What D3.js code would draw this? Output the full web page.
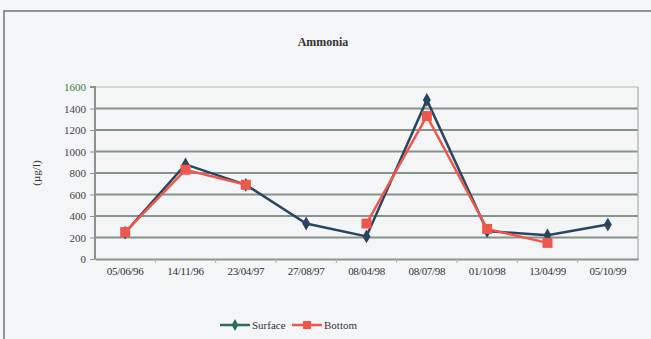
<!DOCTYPE html>
<html><head><meta charset="utf-8">
<script src="https://cdn.jsdelivr.net/npm/d3@7"></script>
<style>body{margin:0;background:#f4f5f7;}svg{display:block;}</style>
</head><body>
<svg id="c" width="651" height="339"></svg>
<script>
const categories = ["05/06/96","14/11/96","23/04/97","27/08/97","08/04/98","08/07/98","01/10/98","13/04/99","05/10/99"];
const surface = [245, 880, 690, 330, 210, 1480, 260, 220, 320];
const bottom  = [250, 830, 690, null, 330, 1330, 280, 150, null];
const yTicks = [0,200,400,600,800,1000,1200,1400,1600];

const svg = d3.select("#c");
const W = 651, H = 339;
const FF = "'Liberation Serif', 'Times New Roman', serif";
svg.append("rect").attr("width",W).attr("height",H).attr("fill","#f4f5f7");
// outer frame
svg.append("path").attr("d","M4,339 V11 H651").attr("fill","none").attr("stroke","#8e9692").attr("stroke-width",2);

const m = {l:95, r:638, t:87, b:259};
const x = d3.scaleBand().domain(categories).range([m.l, m.r]);
const y = d3.scaleLinear().domain([0,1600]).range([m.b, m.t]);

// gridlines
svg.append("g").selectAll("line").data(yTicks.filter(d=>d>0)).join("line")
  .attr("x1",m.l).attr("x2",m.r).attr("y1",d=>y(d)).attr("y2",d=>y(d))
  .attr("stroke",d=>d===1600?"#a9bea9":"#86938a").attr("stroke-width",d=>d===1600?1:2);
// right edge
svg.append("line").attr("x1",m.r).attr("x2",m.r).attr("y1",m.t).attr("y2",m.b).attr("stroke","#9aa69c").attr("stroke-width",1);

// y axis
const ya = svg.append("g").attr("transform",`translate(${m.l},0)`)
  .call(d3.axisLeft(y).tickValues(yTicks).tickFormat(d3.format("d")).tickSize(5).tickPadding(4));
ya.selectAll("text").style("font-family",FF).attr("font-size",11)
  .attr("fill",d=>d===1600?"#3f7a3f":"#444");
ya.selectAll("line").attr("stroke","#8a948c");
ya.select(".domain").attr("stroke","#8a948c").attr("stroke-width",2).attr("d",`M-5,${m.t}H0V${m.b}`);

// x axis
const xa = svg.append("g").attr("transform",`translate(0,${m.b})`)
  .call(d3.axisBottom(x).tickSize(0).tickPadding(8));
xa.select(".domain").attr("stroke","#8a948c").attr("stroke-width",2);
xa.selectAll("text").style("font-family",FF).attr("font-size",11).attr("fill","#333").attr("letter-spacing","-0.3");
// between-category tick marks
svg.append("g").selectAll("line").data(categories.slice(1)).join("line")
  .attr("x1",d=>x(d)).attr("x2",d=>x(d)).attr("y1",m.b).attr("y2",m.b+4)
  .attr("stroke","#aab2ac").attr("stroke-width",1);

const cx = d => x(d)+x.bandwidth()/2;
const line = d3.line().defined(d=>d.v!=null).x(d=>cx(d.c)).y(d=>y(d.v));
const sData = categories.map((c,i)=>({c, v:surface[i]}));
const bData = categories.map((c,i)=>({c, v:bottom[i]}));

const sCol = "#2a4560", bCol = "#f0574c";
svg.append("path").datum(sData).attr("d",line).attr("fill","none").attr("stroke",sCol).attr("stroke-width",2.5);
svg.append("g").selectAll("path").data(sData.filter(d=>d.v!=null)).join("path")
  .attr("d",d3.symbol(d3.symbolDiamond,55)).attr("transform",d=>`translate(${cx(d.c)},${y(d.v)})`).attr("fill",sCol);
svg.append("path").datum(bData).attr("d",line).attr("fill","none").attr("stroke",bCol).attr("stroke-width",2.5);
svg.append("g").selectAll("rect").data(bData.filter(d=>d.v!=null)).join("rect")
  .attr("x",d=>cx(d.c)-5).attr("y",d=>y(d.v)-5).attr("width",10).attr("height",10).attr("fill",bCol);

// title
svg.append("text").attr("x",323).attr("y",46).attr("text-anchor","middle")
  .style("font-family",FF).attr("font-weight","bold").attr("font-size",12).attr("fill","#333").text("Ammonia");
// y label
svg.append("text").attr("transform","translate(40,173) rotate(-90)").attr("text-anchor","middle")
  .style("font-family",FF).attr("font-size",11).attr("fill","#333").text("(µg/l)");

// legend
const lg = svg.append("g").attr("transform","translate(220,325)");
lg.append("line").attr("x1",0).attr("x2",30).attr("stroke","#2f6b5c").attr("stroke-width",2.5);
lg.append("path").attr("d",d3.symbol(d3.symbolDiamond,40)).attr("transform","translate(15,0)").attr("fill","#2f6b5c");
lg.append("text").attr("x",32).attr("y",4).style("font-family",FF).attr("font-size",11).attr("fill","#333").text("Surface");
lg.append("line").attr("x1",72).attr("x2",102).attr("stroke",bCol).attr("stroke-width",2.5);
lg.append("rect").attr("x",83).attr("y",-4).attr("width",8).attr("height",8).attr("fill",bCol);
lg.append("text").attr("x",104).attr("y",4).style("font-family",FF).attr("font-size",11).attr("fill","#333").text("Bottom");
</script>
</body></html>
